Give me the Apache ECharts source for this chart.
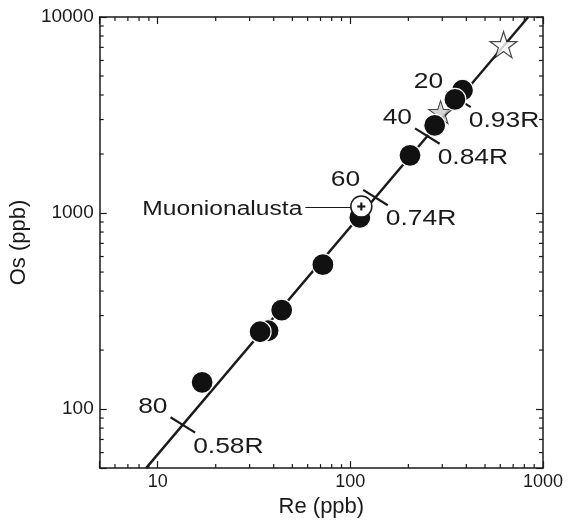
<!DOCTYPE html>
<html>
<head>
<meta charset="utf-8">
<script src="https://cdn.jsdelivr.net/npm/echarts@6/dist/echarts.min.js"></script>
<style>
  html, body { margin: 0; padding: 0; background: #fff; }
  #chart { width: 568px; height: 523px; }
</style>
</head>
<body>
<div id="chart"></div>
<script>
// filled circles (Re, Os in ppb)
const reCircles = [17, 37.4, 34, 44, 72, 112, 204, 274, 382, 349];
const osCircles = [137, 251, 248, 320, 545, 950, 1970, 2800, 4230, 3800];
// stars
const reGrayStar = [294];
const osGrayStar = [3270];
const reOpenStar = [624];
const osOpenStar = [7230];
// Muonionalusta
const reMuon = [114];
const osMuon = [1080];
// fitted line end points
const lineRe = [8.7, 838];
const lineOs = [50, 10000];
// marks on the line
const markRe = [364, 251, 135, 13.5];
const markOs = [3800, 2470, 1200, 83];
const markDepth = ['20', '40', '60', '80'];
const markRatio = ['0.93R', '0.84R', '0.74R', '0.58R'];
// axis ticks
const xTicks = [10, 100, 1000];
const yTicks = [100, 1000, 10000];
const xMinor = [6, 7, 8, 9, 20, 30, 40, 50, 60, 70, 80, 90, 200, 300, 400, 500, 600, 700, 800, 900];
const yMinor = [60, 70, 80, 90, 200, 300, 400, 500, 600, 700, 800, 900, 2000, 3000, 4000, 5000, 6000, 7000, 8000, 9000];

const FONT = "'Liberation Sans', Arial, sans-serif";
const INK = '#1a1a1a';
const X_MIN = 5, X_MAX = 1000, Y_MIN = 50, Y_MAX = 10000;

const STAR = 'path://M50,0L61.23,34.55L97.55,34.55L68.17,55.9L79.39,90.45L50,69.1L20.61,90.45L31.83,55.9L2.45,34.55L38.77,34.55Z';

const chart = echarts.init(document.getElementById('chart'));

const axisCommon = {
  type: 'log',
  logBase: 10,
  axisLine: { lineStyle: { color: INK, width: 1.5 } },
  axisTick: { inside: true, length: 7, lineStyle: { color: INK, width: 1.2 } },
  splitLine: { show: false },
  minorTick: { show: false }
};

const options = {
  animation: false,
  grid: { left: 93, right: 25, top: 17, bottom: 53 },
  xAxis: [
    Object.assign({}, axisCommon, {
      min: X_MIN, max: X_MAX, position: 'bottom',
      name: 'Re (ppb)', nameLocation: 'middle', nameGap: 17,
      nameTextStyle: { fontFamily: FONT, fontSize: 22, color: INK, verticalAlign: 'top' },
      axisLabel: {
        margin: 5, fontFamily: FONT, fontSize: 18, color: INK,
        formatter: v => xTicks.includes(Math.round(v)) ? String(Math.round(v)) : ''
      }
    }),
    Object.assign({}, axisCommon, {
      min: X_MIN, max: X_MAX, position: 'top', axisLabel: { show: false }
    })
  ],
  yAxis: [
    Object.assign({}, axisCommon, {
      min: Y_MIN, max: Y_MAX, position: 'left',
      name: 'Os (ppb)', nameLocation: 'middle', nameGap: 57, nameRotate: 90,
      nameTextStyle: { fontFamily: FONT, fontSize: 22, color: INK },
      axisLabel: {
        margin: 6, fontFamily: FONT, fontSize: 19, color: INK,
        formatter: v => yTicks.includes(Math.round(v)) ? String(Math.round(v)) : ''
      }
    }),
    Object.assign({}, axisCommon, {
      min: Y_MIN, max: Y_MAX, position: 'right', axisLabel: { show: false }
    })
  ],
  series: [
    // minor ticks along bottom and top
    {
      type: 'custom', z: 1, silent: true,
      data: xMinor.map(v => [v, Y_MIN]),
      renderItem: (params, api) => {
        const b = api.coord([api.value(0), Y_MIN]);
        const t = api.coord([api.value(0), Y_MAX]);
        const st = { stroke: INK, lineWidth: 1.2 };
        return { type: 'group', children: [
          { type: 'line', shape: { x1: b[0], y1: b[1], x2: b[0], y2: b[1] - 4 }, style: st },
          { type: 'line', shape: { x1: t[0], y1: t[1], x2: t[0], y2: t[1] + 4 }, style: st }
        ] };
      }
    },
    // minor ticks along left and right
    {
      type: 'custom', z: 1, silent: true,
      data: yMinor.map(v => [X_MIN, v]),
      renderItem: (params, api) => {
        const l = api.coord([X_MIN, api.value(1)]);
        const r = api.coord([X_MAX, api.value(1)]);
        const st = { stroke: INK, lineWidth: 1.2 };
        return { type: 'group', children: [
          { type: 'line', shape: { x1: l[0], y1: l[1], x2: l[0] + 4, y2: l[1] }, style: st },
          { type: 'line', shape: { x1: r[0], y1: r[1], x2: r[0] - 4, y2: r[1] }, style: st }
        ] };
      }
    },
    // fitted line
    {
      type: 'line', z: 2, silent: true, symbol: 'none',
      lineStyle: { color: INK, width: 2.4 },
      data: lineRe.map((r, i) => [r, lineOs[i]])
    },
    // depth marks across the line
    {
      type: 'custom', z: 3, silent: true,
      data: markRe.map((r, i) => [r, markOs[i]]),
      renderItem: (params, api) => {
        const c = api.coord([api.value(0), api.value(1)]);
        const i = params.dataIndex;
        const hx = 12.3, hy = 7.7;
        const ts = { fontFamily: FONT, fontSize: 22, fill: INK, verticalAlign: 'middle' };
        return { type: 'group', children: [
          { type: 'line', shape: { x1: c[0] - hx, y1: c[1] - hy, x2: c[0] + hx, y2: c[1] + hy },
            style: { stroke: INK, lineWidth: 2.2 } },
          { type: 'text', x: c[0] - hx - 3, y: c[1] - hy - 10, scaleX: 1.2,
            style: Object.assign({ text: markDepth[i], align: 'right' }, ts) },
          { type: 'text', x: c[0] + hx - 2, y: c[1] + hy + 14, scaleX: 1.2,
            style: Object.assign({ text: markRatio[i], align: 'left' }, ts) }
        ] };
      }
    },
    // gray star
    {
      type: 'scatter', z: 4, symbol: STAR, symbolSize: [24, 23],
      itemStyle: { color: '#c8c8c8', borderColor: INK, borderWidth: 1 },
      data: reGrayStar.map((r, i) => [r, osGrayStar[i]])
    },
    // open star
    {
      type: 'scatter', z: 4, symbol: STAR, symbolSize: [27, 26],
      itemStyle: { color: '#fff', borderColor: INK, borderWidth: 1.2 },
      data: reOpenStar.map((r, i) => [r, osOpenStar[i]])
    },
    // filled circles
    {
      type: 'scatter', z: 5, symbol: 'circle', symbolSize: 22,
      itemStyle: { color: '#111', borderColor: '#fff', borderWidth: 1.2, opacity: 1 },
      data: reCircles.map((r, i) => [r, osCircles[i]])
    },
    // Muonionalusta
    {
      type: 'custom', z: 6, silent: true,
      data: reMuon.map((r, i) => [r, osMuon[i]]),
      renderItem: (params, api) => {
        const c = api.coord([api.value(0), api.value(1)]);
        return { type: 'group', children: [
          { type: 'line', shape: { x1: c[0] - 56, y1: c[1] + 1, x2: c[0] - 10, y2: c[1] + 1 },
            style: { stroke: INK, lineWidth: 1.2 } },
          { type: 'circle', shape: { cx: c[0], cy: c[1], r: 10.5 },
            style: { fill: '#fff', stroke: INK, lineWidth: 1.5 } },
          { type: 'line', shape: { x1: c[0] - 4, y1: c[1], x2: c[0] + 4, y2: c[1] },
            style: { stroke: INK, lineWidth: 2.2 } },
          { type: 'line', shape: { x1: c[0], y1: c[1] - 4, x2: c[0], y2: c[1] + 4 },
            style: { stroke: INK, lineWidth: 2.2 } },
          { type: 'text', x: c[0] - 59, y: c[1] + 2.5, scaleX: 1.23,
            style: { text: 'Muonionalusta', align: 'right', verticalAlign: 'middle',
                     fontFamily: FONT, fontSize: 20, fill: INK } }
        ] };
      }
    }
  ]
};

chart.setOption(options);
</script>
</body>
</html>
